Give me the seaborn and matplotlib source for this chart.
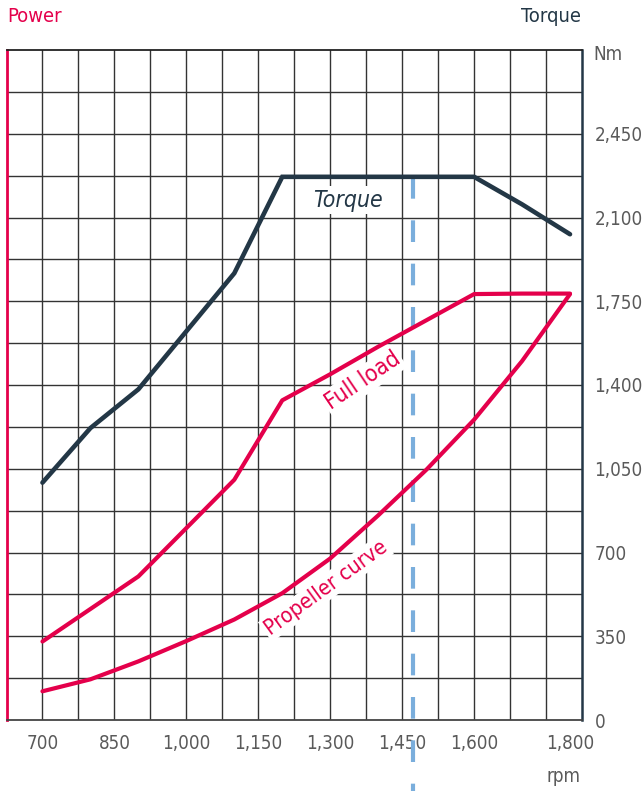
import pandas as pd
import numpy as np
import matplotlib
matplotlib.use("Agg")
import matplotlib.pyplot as plt
import seaborn as sns
from matplotlib import font_manager

# data (rpm -> value)
torque_rpm = [700, 800, 900, 1100, 1200, 1600, 1700, 1800]
torque_nm = [992, 1220, 1382, 1867, 2270, 2270, 2155, 2030]

full_rpm = [700, 900, 1100, 1200, 1300, 1400, 1500, 1600, 1700, 1800]
full_load = [328, 600, 1004, 1336, 1445, 1560, 1670, 1780, 1782, 1782]

prop_rpm = [700, 800, 900, 1000, 1100, 1200, 1300, 1400, 1500, 1600, 1700, 1800]
prop_curve = [120, 170, 245, 330, 420, 530, 675, 855, 1045, 1255, 1500, 1780]

rated_rpm = 1472

x_ticks = [700, 850, 1000, 1150, 1300, 1450, 1600, 1800]
y_ticks = [0, 350, 700, 1050, 1400, 1750, 2100, 2450]

RED = "#e4004b"
NAVY = "#233746"
BLUE = "#7aaedc"
GRAY = "#5a5a5a"

sns.set_style("white")

# look for a condensed face, the original uses a narrow font
cond = [f for f in font_manager.fontManager.ttflist
        if ("Condensed" in f.name or "Narrow" in f.name or f.stretch in ("condensed", "semi-condensed"))
        and f.style == "normal" and f.weight in (400, "normal")]
cond_it = [f for f in font_manager.fontManager.ttflist
           if ("Condensed" in f.name or "Narrow" in f.name or f.stretch in ("condensed", "semi-condensed"))
           and f.style in ("italic", "oblique") and f.weight in (400, "normal")]
if cond:
    reg = font_manager.FontProperties(fname=cond[0].fname)
    ita = font_manager.FontProperties(fname=cond_it[0].fname) if cond_it else reg
    TS, LS, HS = 13.5, 16.5, 14.5
else:
    reg = font_manager.FontProperties(family="Liberation Sans")
    ita = font_manager.FontProperties(family="Liberation Sans", style="italic")
    TS, LS, HS = 13, 15, 13


def fp(base, size):
    p = base.copy()
    p.set_size(size)
    return p


torque = pd.DataFrame({"rpm": torque_rpm, "val": torque_nm})
full = pd.DataFrame({"rpm": full_rpm, "val": full_load})
prop = pd.DataFrame({"rpm": prop_rpm, "val": prop_curve})

fig = plt.figure(figsize=(6.43, 7.91), dpi=100)
ax = fig.add_axes([6.5 / 643, 71 / 791, 575.5 / 643, 670 / 791])

sns.lineplot(data=torque, x="rpm", y="val", ax=ax, color=NAVY, lw=3.3,
             solid_capstyle="round", solid_joinstyle="miter", zorder=4)
sns.lineplot(data=full, x="rpm", y="val", ax=ax, color=RED, lw=3.0,
             solid_capstyle="round", zorder=4)
sns.lineplot(data=prop, x="rpm", y="val", ax=ax, color=RED, lw=3.0,
             solid_capstyle="round", zorder=4)

ax.plot([rated_rpm, rated_rpm], [torque_nm[4], -320], color=BLUE, lw=3.0,
        dashes=(5.2, 5.2), clip_on=False, zorder=3.5)

ax.set_xlim(625, 1825)
ax.set_ylim(0, 2800)
ax.set_xlabel("")
ax.set_ylabel("")

ax.set_xticks(x_ticks)
ax.set_xticklabels([f"{v:,}" for v in x_ticks])
ax.set_xticks(np.arange(700, 1800, 75), minor=True)
ax.yaxis.tick_right()
ax.set_yticks(y_ticks)
ax.set_yticklabels([f"{v:,}" for v in y_ticks])
ax.set_yticks(np.arange(175, 2800, 175), minor=True)
ax.xaxis.remove_overlapping_locs = False
ax.yaxis.remove_overlapping_locs = False
ax.grid(False)
ax.grid(True, which="minor", color="#333333", lw=1.0, zorder=1)
ax.tick_params(which="both", length=0, labelcolor=GRAY)
ax.tick_params(axis="x", pad=10)
ax.tick_params(axis="y", pad=9)
for lab in ax.get_xticklabels() + ax.get_yticklabels():
    lab.set_fontproperties(fp(reg, TS))

for side, c, w in [("left", RED, 2.0), ("right", NAVY, 1.8),
                   ("top", "#222222", 1.3), ("bottom", "#444444", 1.3)]:
    ax.spines[side].set_visible(True)
    ax.spines[side].set_color(c)
    ax.spines[side].set_linewidth(w)
    ax.spines[side].set_zorder(5)

box = dict(facecolor="white", edgecolor="none", pad=1.5)
ax.text(1337, 2173, "Torque", color=NAVY, fontproperties=fp(ita, LS),
        ha="center", va="center", bbox=box, zorder=6)
ax.text(1368, 1417, "Full load", color=RED, fontproperties=fp(reg, LS), rotation=34,
        rotation_mode="anchor", ha="center", va="center", bbox=box, zorder=6)
ax.text(1291, 552, "Propeller curve", color=RED, fontproperties=fp(reg, 15.5), rotation=36,
        rotation_mode="anchor", ha="center", va="center", bbox=box, zorder=6)

fig.text(7 / 643, 1 - 17 / 791, "Power", color=RED, fontproperties=fp(reg, HS),
         ha="left", va="center")
fig.text(581 / 643, 1 - 17 / 791, "Torque", color=NAVY, fontproperties=fp(reg, HS),
         ha="right", va="center")
fig.text(593 / 643, 1 - 55 / 791, "Nm", color=GRAY, fontproperties=fp(reg, TS),
         ha="left", va="center")
fig.text(581 / 643, 1 - 776 / 791, "rpm", color=GRAY, fontproperties=fp(reg, TS),
         ha="right", va="center")

fig.savefig("out.png", dpi=100)
